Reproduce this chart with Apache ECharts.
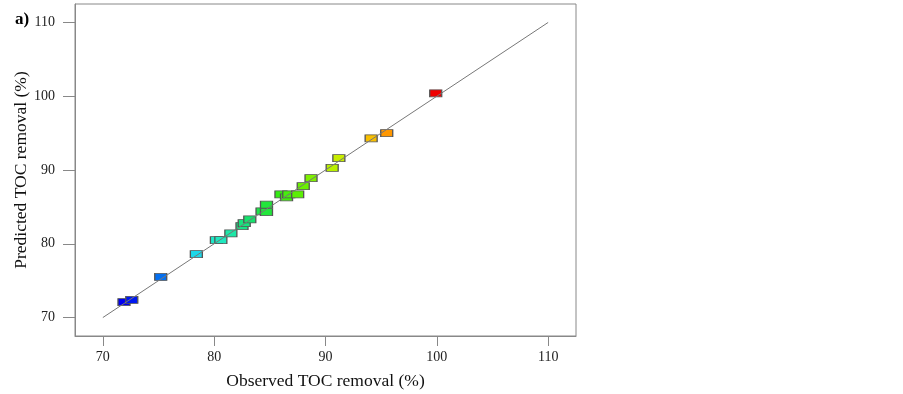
<!DOCTYPE html>
<html>
<head>
<meta charset="utf-8">
<script src="https://cdn.jsdelivr.net/npm/echarts@6/dist/echarts.min.js"></script>
<style>
    html, body { margin: 0; padding: 0; background: #fff; }
    #chart { width: 903px; height: 394px; }
</style>
</head>
<body>
<div id="chart"></div>
<script>
    // observed vs predicted TOC removal (%)
    var observed = [71.9, 72.6, 75.2, 78.4, 80.2, 80.6, 81.5, 82.5, 82.7, 83.2, 84.3, 84.7, 84.7, 86.0, 86.5, 86.7, 87.5, 88.0, 88.7, 90.6, 91.2, 94.1, 95.5, 99.9];
    var predicted = [72.1, 72.4, 75.5, 78.6, 80.5, 80.5, 81.4, 82.4, 82.8, 83.3, 84.4, 84.3, 85.3, 86.7, 86.3, 86.7, 86.7, 87.8, 88.9, 90.3, 91.6, 94.3, 95.0, 100.4];
    var fitLine = [70, 110];
    var tickValues = [70, 80, 90, 100, 110];

    var chart = echarts.init(document.getElementById('chart'));

    var points = observed.map(function (v, i) { return [v, predicted[i]]; });

    var serif = '"Liberation Serif", "Times New Roman", serif';

    chart.setOption({
        animation: false,
        title: {
            text: 'a)',
            left: 10,
            top: 6,
            textStyle: { fontFamily: serif, fontSize: 17, fontWeight: 'bold', color: '#000' }
        },
        grid: {
            left: 75, top: 4, right: 327, bottom: 58,
            outerBoundsMode: 'none',
            containLabel: false,
            show: true, borderColor: '#888', borderWidth: 1
        },
        visualMap: {
            show: false,
            type: 'continuous',
            seriesIndex: 0,
            dimension: 0,
            min: 71.9,
            max: 99.9,
            inRange: {
                color: ['#0000f0', '#0050f0', '#0a9cf0', '#20e8e8', '#1ee8b0', '#14e060', '#30ec14',
                    '#70f000', '#b8f000', '#f0e000', '#ffa000', '#ff5000', '#f00000']
            }
        },
        xAxis: {
            type: 'value',
            min: 67.5,
            max: 112.5,
            name: 'Observed TOC removal (%)',
            nameLocation: 'middle',
            nameGap: 36,
            nameMoveOverlap: false,
            nameTextStyle: { fontFamily: serif, fontSize: 17.5, color: '#111' },
            axisLine: { lineStyle: { color: '#888' } },
            axisTick: { show: true, length: 10, customValues: tickValues, lineStyle: { color: '#888' } },
            axisLabel: { customValues: tickValues, margin: 14, fontFamily: serif, fontSize: 14, color: '#222' },
            splitLine: { show: false }
        },
        yAxis: {
            type: 'value',
            min: 67.5,
            max: 112.5,
            name: 'Predicted TOC removal (%)',
            nameLocation: 'middle',
            nameGap: 45,
            nameMoveOverlap: false,
            nameTextStyle: { fontFamily: serif, fontSize: 17.5, color: '#111' },
            axisLine: { show: true, lineStyle: { color: '#888' } },
            axisTick: { show: true, length: 12, customValues: tickValues, lineStyle: { color: '#888' } },
            axisLabel: { customValues: tickValues, margin: 20, fontFamily: serif, fontSize: 14, color: '#222' },
            splitLine: { show: false }
        },
        series: [
            {
                type: 'scatter',
                data: points,
                symbol: 'rect',
                symbolSize: [12, 7],
                z: 3,
                itemStyle: { borderColor: '#555', borderWidth: 1, opacity: 1 }
            },
            {
                type: 'line',
                data: [[fitLine[0], fitLine[0]], [fitLine[1], fitLine[1]]],
                showSymbol: false,
                symbol: 'none',
                z: 4,
                lineStyle: { color: '#777', width: 1 }
            }
        ]
    });
</script>
</body>
</html>
